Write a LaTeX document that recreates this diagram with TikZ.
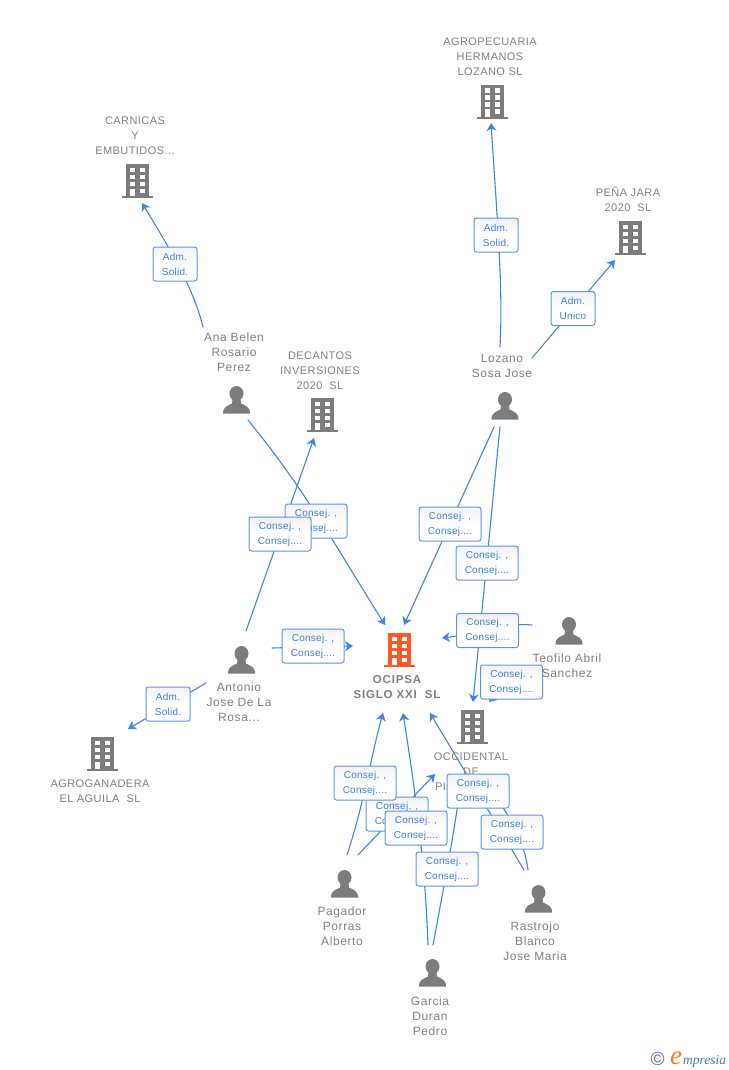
\documentclass[tikz,border=0pt]{standalone}
\usepackage{fontspec}
\setmainfont{Liberation Sans}
\newfontfamily\compfont[LetterSpace=4]{Liberation Sans}
\newfontfamily\persfont[LetterSpace=5]{Liberation Sans}
\newfontfamily\boldfont[LetterSpace=7]{Liberation Sans Bold}
\newfontfamily\boxfont[LetterSpace=2.5]{Liberation Sans}
\newfontfamily\logofont{Liberation Serif Italic}
\usetikzlibrary{arrows.meta,backgrounds}
\definecolor{iconGrey}{HTML}{7C7C7C}
\definecolor{iconOrange}{HTML}{FF5A26}
\definecolor{textGrey}{HTML}{808080}
\definecolor{linkBlue}{HTML}{3F85E2}
\definecolor{boxBlue}{HTML}{5A95E8}
\definecolor{boxText}{HTML}{3B7FDD}
\definecolor{logoTeal}{HTML}{3F7F95}
\definecolor{logoOrange}{HTML}{F08020}
\tikzset{
  x=1pt,y=-1pt,
  bldg/.style={minimum width=32pt,minimum height=35pt,inner sep=0pt,outer sep=0pt,
    path picture={
      \begin{scope}[shift={(path picture bounding box.center)}]
        \fill[#1] (-11.5,-17) rectangle (11.5,15);
        \fill[#1] (-15.5,15) rectangle (15.5,17);
        \foreach \yy in {-13.5,-6.5,0.5}{
          \fill[white] (-7.5,\yy) rectangle (-2.5,\yy+4.2);
          \fill[white] (2.5,\yy) rectangle (7.5,\yy+4.2);}
        \fill[white] (2.5,7.5) rectangle (7.5,11.7);
        \fill[white] (-7.5,7.5) rectangle (-2.5,15);
      \end{scope}}},
  pers/.style={minimum width=28pt,minimum height=28pt,inner sep=0pt,outer sep=0pt,
    path picture={
      \begin{scope}[shift={(path picture bounding box.center)}]
        \fill[iconGrey] (0,-6.5) ellipse (7 and 7.5);
        \fill[iconGrey] (-13.5,13.5) .. controls (-13.5,6.5) and (-9,6) .. (-4.5,3.5)
          -- (-4,-1) -- (4,-1) -- (4.5,3.5) .. controls (9,6) and (13.5,6.5) .. (13.5,13.5) -- cycle;
      \end{scope}}},
  comptext/.style={font=\compfont\fontsize{11}{15}\selectfont,text=textGrey,align=center,inner sep=0pt},
  perstext/.style={font=\persfont\fontsize{12}{15}\selectfont,text=textGrey,align=center,inner sep=0pt},
  maintext/.style={font=\boldfont\fontsize{11.5}{15}\selectfont,text=textGrey,align=center,inner sep=0pt},
  lab/.style={draw=boxBlue,line width=1pt,rounded corners=2.5pt,top color=black!5,bottom color=white,middle color=white,
    text=boxText,font=\boxfont\fontsize{10}{15}\selectfont,align=center,inner sep=0pt,
    minimum height=34pt},
  wide/.style={lab,minimum width=62pt,execute at begin node={\rule{0pt}{12pt}}},
  narrow/.style={lab,minimum width=44pt,execute at begin node={\rule{0pt}{9.5pt}}},
  conn/.style={draw=linkBlue,line width=1.1pt,line cap=round},
  arr/.style={conn,-{Stealth[length=8pt,width=10pt,inset=2.5pt]}},
}
\begin{document}
\begin{tikzpicture}
\useasboundingbox (0,0) rectangle (728,1070);
% icons
\node[bldg=iconOrange] (ocipsa) at (399,650) {};
\node[bldg=iconGrey] (carnicas) at (137,181) {};
\node[bldg=iconGrey] (agrop) at (492,102) {};
\node[bldg=iconGrey] (pena) at (630,238) {};
\node[bldg=iconGrey] (decantos) at (322,415) {};
\node[bldg=iconGrey] (occid) at (472,727) {};
\node[bldg=iconGrey] (agrog) at (102,754) {};
\node[pers] (ana) at (236.5,400) {};
\node[pers] (lozano) at (505,406) {};
\node[pers] (teofilo) at (569,631) {};
\node[pers] (antonio) at (241.5,660) {};
\node[pers] (pagador) at (344.5,884) {};
\node[pers] (rastrojo) at (538.5,899) {};
\node[pers] (garcia) at (432.5,973) {};
% texts
\node[comptext] (tcarnicas) at (135,136) {CARNICAS\\Y\\EMBUTIDOS...};
\node[comptext] (tagrop) at (490,57) {AGROPECUARIA\\HERMANOS\\LOZANO SL};
\node[comptext] (tpena) at (628,199.5) {PEÑA JARA\\2020\ \ SL};
\node[comptext] (tdecantos) at (320,371) {DECANTOS\\INVERSIONES\\2020\ \ SL};
\node[comptext] (toccid) at (471,772) {OCCIDENTAL\\DE\\\makebox[72pt][l]{PI}};
\node[comptext] (tagrog) at (100,791) {AGROGANADERA\\EL AGUILA\ \ SL};
\node[maintext] (tocipsa) at (397,687.5) {OCIPSA\\SIGLO XXI\ \ SL};
\node[perstext] (tana) at (234,352) {Ana Belen\\Rosario\\Perez};
\node[perstext] (tlozano) at (502,365.5) {Lozano\\Sosa Jose};
\node[perstext] (tteofilo) at (567,665.5) {Teofilo Abril\\Sanchez};
\node[perstext] (tantonio) at (239,702) {Antonio\\Jose De La\\Rosa...};
\node[perstext] (tpagador) at (342,926) {Pagador\\Porras\\Alberto};
\node[perstext] (trastrojo) at (535,941) {Rastrojo\\Blanco\\Jose Maria};
\node[perstext] (tgarcia) at (430,1016) {Garcia\\Duran\\Pedro};
% relation labels
\node[narrow] (l1) at (175,264) {Adm.\\Solid.};
\node[narrow] (l2) at (496,235) {Adm.\\Solid.};
\node[narrow] (l3) at (573,308.5) {Adm.\\Unico};
\node[narrow] (l4) at (168,704) {Adm.\\Solid.};
\node[wide] (l5) at (316,521) {Consej. ,\\Consej....};
\node[wide] (l6) at (280,534) {Consej. ,\\Consej....};
\node[wide] (l7) at (450,524) {Consej. ,\\Consej....};
\node[wide] (l8) at (487,563) {Consej. ,\\Consej....};
\node[wide] (l9) at (487.5,630.5) {Consej. ,\\Consej....};
\node[wide] (l10) at (313,646) {Consej. ,\\Consej....};
\node[wide] (l11) at (511.5,682) {Consej. ,\\Consej....};
\node[wide] (l12) at (397,814) {Consej. ,\\Consej....};
\node[wide] (l13) at (365,783) {Consej. ,\\Consej....};
\node[wide] (l14) at (512,832) {Consej. ,\\Consej....};
\node[wide] (l15) at (478,791) {Consej. ,\\Consej....};
\node[wide] (l16) at (416,828) {Consej. ,\\Consej....};
\node[wide] (l17) at (447,869) {Consej. ,\\Consej....};
% connector ends
\coordinate (anaN) at (203,327);
\coordinate (anaS) at (248,420);
\coordinate (carnS) at (142,203);
\coordinate (agropS) at (491,123);
\coordinate (lozN) at (500,347);
\coordinate (lozE) at (532,358);
\coordinate (lozS1) at (494,427);
\coordinate (lozS2) at (500,427);
\coordinate (penaS) at (615,260);
\coordinate (decS) at (314,438);
\coordinate (antN) at (246,631);
\coordinate (antE) at (272,648);
\coordinate (antW) at (206,683);
\coordinate (agrogN) at (128,729);
\coordinate (ociA) at (385,625);
\coordinate (ociB) at (404,625);
\coordinate (ociE) at (442,638);
\coordinate (ociW) at (353,646);
\coordinate (ociC) at (383,713);
\coordinate (ociD) at (403,713);
\coordinate (ociF) at (430,713);
\coordinate (occA) at (473,702);
\coordinate (occB) at (489,702);
\coordinate (occC) at (435,774);
\coordinate (occD) at (461,780);
\coordinate (occE) at (490,790);
\coordinate (teoW) at (532,625);
\coordinate (teoS) at (522,667);
\coordinate (pagA) at (347,855);
\coordinate (pagB) at (358,855);
\coordinate (garA) at (428,945);
\coordinate (garB) at (433,945);
\coordinate (rasA) at (524,870);
\coordinate (rasB) at (528,870);
% connectors, under everything
\begin{scope}[on background layer]
\draw[arr] (anaS) .. controls (305,490) and (335,545) .. (ociA);
\draw[arr] (anaN) .. controls (195,295) and (180,265) .. (carnS);
\draw[arr] (antN) -- (decS);
\draw[arr] (antE) -- (ociW);
\draw[arr] (antW) -- (agrogN);
\draw[arr] (lozN) .. controls (503,290) and (498,230) .. (agropS);
\draw[arr] (lozE) -- (penaS);
\draw[arr] (lozS1) -- (ociB);
\draw[arr] (lozS2) -- (occA);
\draw[arr] (teoW) .. controls (500,622) and (470,635) .. (ociE);
\draw[arr] (teoS) -- (occB);
\draw[arr] (pagA) .. controls (365,800) and (370,760) .. (ociC);
\draw[arr] (pagB) -- (occC);
\draw[arr] (garA) .. controls (425,860) and (415,790) .. (ociD);
\draw[conn] (garB) .. controls (445,880) and (455,830) .. (occD);
\draw[arr] (rasA) -- (ociF);
\draw[conn] (rasB) .. controls (524,840) and (510,815) .. (occE);
\end{scope}
% logo
\node[inner sep=0pt,text=logoTeal,font=\fontsize{19}{19}\selectfont] (copy) at (657.5,1059) {©};
\node[inner sep=0pt,text=logoOrange,font=\logofont\fontsize{27}{27}\selectfont,anchor=base west] (logoe) at (670,1064) {e};
\node[inner sep=0pt,text=logoTeal,font=\logofont\fontsize{13.5}{13.5}\selectfont,anchor=base west] (logot) at (683,1064) {mpresia};
\end{tikzpicture}
\end{document}
